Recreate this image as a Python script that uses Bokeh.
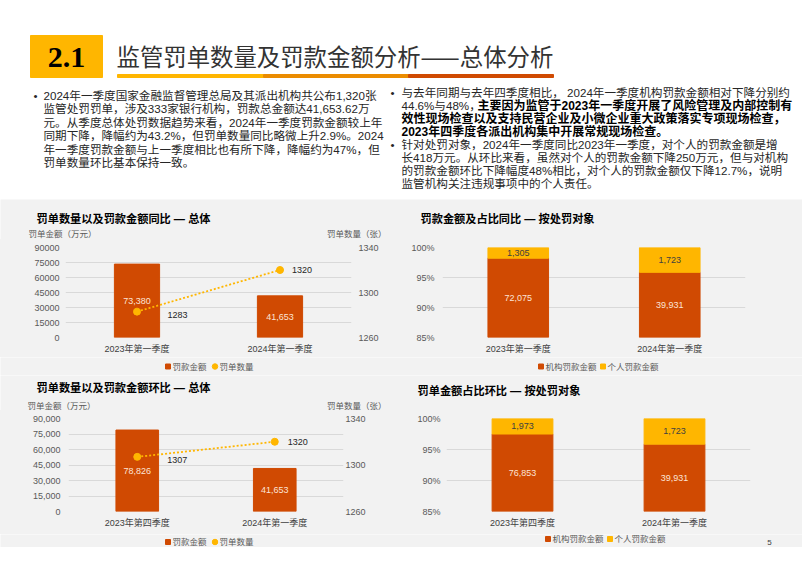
from bokeh.plotting import figure
from bokeh.models import (Range1d, FactorRange, LinearAxis, FixedTicker, NumeralTickFormatter,
                          Label, LabelSet, ColumnDataSource)
from bokeh.layouts import column, row
from bokeh.embed import file_html
from bokeh.resources import INLINE
from bokeh.core.properties import value

# ---------------- data ----------------
yoy_periods = ["2023年第一季度", "2024年第一季度"]
yoy_amount = [73380, 41653]          # 罚款金额（万元）
yoy_count = [1283, 1320]             # 罚单数量（张）

qoq_periods = ["2023年第四季度", "2024年第一季度"]
qoq_amount = [78826, 41653]
qoq_count = [1307, 1320]

yoy_inst = [72075, 39931]            # 机构罚款金额
yoy_indiv = [1305, 1723]             # 个人罚款金额
qoq_inst = [76853, 39931]
qoq_indiv = [1973, 1723]

amount_ticks = [0, 15000, 30000, 45000, 60000, 75000, 90000]
count_ticks = [1260, 1300, 1340]
share_ticks = [0.85, 0.90, 0.95, 1.00]

# ---------------- texts ----------------
slide_num = "2.1"
slide_title = "监管罚单数量及罚款金额分析——总体分析"
left_lines = [
    "2024年一季度国家金融监督管理总局及其派出机构共公布1,320张",
    "监管处罚罚单，涉及333家银行机构，罚款总金额达41,653.62万",
    "元。从季度总体处罚数据趋势来看，2024年一季度罚款金额较上年",
    "同期下降，降幅约为43.2%，但罚单数量同比略微上升2.9%。2024",
    "年一季度罚款金额与上一季度相比也有所下降，降幅约为47%，但",
    "罚单数量环比基本保持一致。",
]
# (text, bold)
right_lines = [
    [("与去年同期与去年四季度相比，  2024年一季度机构罚款金额相对下降分别约", False)],
    [("44.6%与48%，", False), ("主要因为监管于2023年一季度开展了风险管理及内部控制有", True)],
    [("效性现场检查以及支持民营企业及小微企业重大政策落实专项现场检查，", True)],
    [("2023年四季度各派出机构集中开展常规现场检查。", True)],
    [("针对处罚对象，2024年一季度同比2023年一季度，对个人的罚款金额是增", False)],
    [("长418万元。从环比来看，虽然对个人的罚款金额下降250万元，但与对机构", False)],
    [("的罚款金额环比下降幅度48%相比，对个人的罚款金额仅下降12.7%，说明", False)],
    [("监管机构关注违规事项中的个人责任。", False)],
]
t_yoy_total = "罚单数量以及罚款金额同比 — 总体"
t_yoy_share = "罚款金额及占比同比 — 按处罚对象"
t_qoq_total = "罚单数量以及罚款金额环比 — 总体"
t_qoq_share = "罚单金额占比环比 — 按处罚对象"
ax_amount = "罚单金额（万元）"
ax_count = "罚单数量（张）"
lg_amount, lg_count = "罚款金额", "罚单数量"
lg_inst, lg_indiv = "机构罚款金额", "个人罚款金额"

# ---------------- style ----------------
FONT = "'Liberation Sans', 'Noto Sans CJK SC'"
CJK = "'Noto Sans CJK SC'"
ORANGE = "#D04A02"
YELLOW = "#FFB600"
TANGERINE = "#EB8C00"
BG = "#F2F2F2"
GRID = "#D9D9D9"
TICK = "#595959"
DARK = "#262626"
LIGHT = "#FCE4D6"
W = 802
CT = "11.2px"   # chart title size


def panel(height, y0, y1, fill):
    """A text-only panel whose data coordinates equal slide pixels."""
    p = figure(width=W, height=height, x_range=Range1d(0, W), y_range=Range1d(y1, y0),
               output_backend="svg", toolbar_location=None, min_border=0,
               x_axis_type=None, y_axis_type=None, outline_line_color=None,
               background_fill_color=fill, border_fill_color=fill)
    return p


def txt(p, x, y, text, size, color, bold=False, align="left", font=FONT):
    p.add_layout(Label(x=x, y=y, text=text, text_font=font, text_font_size=size,
                       text_color=color, text_font_style="bold" if bold else "normal",
                       text_align=align, text_baseline="middle"))


# ---------------- header ----------------
hdr = panel(199, 0, 199, "white")
hdr.quad(left=30, right=102, top=35, bottom=77, color=YELLOW)
hdr.quad(left=[117, 263, 408], right=[263, 408, 553], top=74, bottom=77,
         color=[YELLOW, TANGERINE, ORANGE])
txt(hdr, 66, 57, slide_num, "30px", "black", bold=True, align="center", font="'Liberation Serif'")
txt(hdr, 116, 55, slide_title, "23.4px", "#333333", font=CJK)

PARA = "11.6px"
for i, t in enumerate(left_lines):
    txt(hdr, 43, 95 + i * 13.4, t, PARA, DARK)
txt(hdr, 33, 95, "•", PARA, DARK)

right_x = [[401], [401, 477], [401], [401], [401], [401], [401], [401]]
for i, segs in enumerate(right_lines):
    for (t, b), xx in zip(segs, right_x[i]):
        txt(hdr, xx, 92 + i * 13, t, "12px" if b else PARA, "black" if b else DARK, bold=b)
for yy in (92, 144):
    txt(hdr, 390, yy, "•", PARA, DARK)


# ---------------- chart helpers ----------------
def base_fig(factors, y_range, width, height, origin, frame):
    ox, oy = origin
    L, T, R, B = frame
    p = figure(width=width, height=height, x_range=FactorRange(factors=factors), y_range=y_range,
               output_backend="svg", toolbar_location=None,
               min_border_left=L - ox, min_border_right=ox + width - R,
               min_border_top=T - oy, min_border_bottom=oy + height - B,
               background_fill_color=BG, border_fill_color=BG, outline_line_color=None)
    p.xgrid.grid_line_color = None
    p.ygrid.grid_line_color = GRID
    for ax in p.axis:
        ax.axis_line_color = None
        ax.major_tick_line_color = None
        ax.minor_tick_line_color = None
        ax.major_tick_out = 0
        ax.major_tick_in = 0
        ax.major_label_text_font = FONT
        ax.major_label_text_font_size = "9px"
    p.xaxis.major_label_text_color = "#404040"
    p.xaxis.major_label_standoff = 6
    p.yaxis.major_label_text_color = TICK
    return p


def combo_chart(periods, amount, count, width, height, origin, frame, tick_fmt, lab_dx, lab_dy,
                right_std, left_std, bar_w):
    p = base_fig(periods, Range1d(0, 90000), width, height, origin, frame)
    p.extra_y_ranges = {"cnt": Range1d(1260, 1340)}
    p.yaxis.ticker = FixedTicker(ticks=amount_ticks)
    p.yaxis.formatter = NumeralTickFormatter(format=tick_fmt)
    p.yaxis.major_label_standoff = left_std
    ax = LinearAxis(y_range_name="cnt", ticker=FixedTicker(ticks=count_ticks),
                    axis_line_color=None, major_tick_line_color=None, minor_tick_line_color=None,
                    major_tick_out=0, major_tick_in=0, major_label_standoff=right_std,
                    major_label_text_font=FONT, major_label_text_font_size="9px",
                    major_label_text_color=TICK)
    p.add_layout(ax, "right")
    src = ColumnDataSource(dict(period=periods, amount=amount, count=count,
                                mid=[a / 2 for a in amount],
                                atxt=[f"{a:,}" for a in amount],
                                ctxt=[str(c) for c in count],
                                dx=lab_dx, dy=lab_dy))
    p.vbar(x="period", top="amount", width=bar_w, color=ORANGE, source=src)
    p.line(x="period", y="count", y_range_name="cnt", source=src, line_color=YELLOW,
           line_width=1.8, line_dash="2 2")
    p.scatter(x="period", y="count", y_range_name="cnt", source=src, size=7, color=YELLOW)
    p.add_layout(LabelSet(x="period", y="mid", text="atxt", source=src, text_align="center",
                          text_baseline="middle", text_color=LIGHT, text_font=value(FONT),
                          text_font_size="9px"))
    p.add_layout(LabelSet(x="period", y="count", y_range_name="cnt", text="ctxt", source=src,
                          x_offset="dx", y_offset="dy", text_align="left",
                          text_baseline="middle", text_color=DARK, text_font=value(FONT),
                          text_font_size="9px"))
    return p


def share_chart(periods, inst, indiv, width, height, origin, frame, left_std):
    p = base_fig(periods, Range1d(0.85, 1.0), width, height, origin, frame)
    p.yaxis.ticker = FixedTicker(ticks=share_ticks)
    p.yaxis.formatter = NumeralTickFormatter(format="0%")
    p.yaxis.major_label_standoff = left_std
    tot = [a + b for a, b in zip(inst, indiv)]
    s_inst = [a / t for a, t in zip(inst, tot)]
    s_ind = [b / t for b, t in zip(indiv, tot)]
    lo = p.y_range.start
    src = ColumnDataSource(dict(period=periods, inst=s_inst, indiv=s_ind,
                                inst_mid=[(lo + s) / 2 for s in s_inst],
                                ind_mid=[(s + 1) / 2 for s in s_inst],
                                inst_txt=[f"{v:,}" for v in inst],
                                ind_txt=[f"{v:,}" for v in indiv]))
    p.vbar_stack(["inst", "indiv"], x="period", width=0.4, color=[ORANGE, YELLOW], source=src)
    p.add_layout(LabelSet(x="period", y="inst_mid", text="inst_txt", source=src,
                          text_align="center", text_baseline="middle", text_color=LIGHT,
                          text_font=value(FONT), text_font_size="9px"))
    p.add_layout(LabelSet(x="period", y="ind_mid", text="ind_txt", source=src,
                          text_align="center", text_baseline="middle", text_color="#404040",
                          text_font=value(FONT), text_font_size="9px"))
    return p


def legend_entry(p, kind, x, y, color, text):
    if kind == "square":
        p.quad(left=x, right=x + 5, top=y - 2.5, bottom=y + 2.5, color=color)
    else:
        p.scatter(x=[x + 2.5], y=[y], size=5.5, color=color)
    txt(p, x + 7, y, text, "8.5px", TICK)


# ---------------- row 1 (同比) ----------------
t1 = panel(40, 199, 239, BG)
txt(t1, 36, 218, t_yoy_total, CT, "black", bold=True)
txt(t1, 28, 233, ax_amount, "8.5px", TICK)
txt(t1, 386, 233, ax_count, "8.5px", TICK, align="right")
txt(t1, 420, 218, t_yoy_share, CT, "black", bold=True)

c1 = combo_chart(yoy_periods, yoy_amount, yoy_count, 400, 118, (0, 239), (65, 245, 351, 337),
                 "0", [30.5, 12], [-3.5, 0], 7, 6, 0.316)
c2 = share_chart(yoy_periods, yoy_inst, yoy_indiv, 402, 118, (400, 239), (442, 247, 745, 340), 8)

l1 = panel(18, 357, 375, BG)
legend_entry(l1, "square", 165, 366, ORANGE, lg_amount)
legend_entry(l1, "circle", 212, 366, YELLOW, lg_count)
legend_entry(l1, "square", 538, 366, ORANGE, lg_inst)
legend_entry(l1, "square", 600, 366, YELLOW, lg_indiv)

# ---------------- row 2 (环比) ----------------
t2 = panel(35, 375, 410, BG)
txt(t2, 36, 387, t_qoq_total, CT, "black", bold=True)
txt(t2, 27, 405, ax_amount, "8.5px", TICK)
txt(t2, 386, 405, ax_count, "8.5px", TICK, align="right")
txt(t2, 417, 390, t_qoq_share, CT, "black", bold=True)

c3 = combo_chart(qoq_periods, qoq_amount, qoq_count, 400, 124, (0, 410), (68, 414, 343, 516),
                 "0,0", [30, 13], [-3, 0], 2, 8, 0.31)
c4 = share_chart(qoq_periods, qoq_inst, qoq_indiv, 402, 124, (400, 410), (446, 418, 750, 511), 6)

l2 = panel(13, 534, 547, BG)
legend_entry(l2, "square", 165, 541.5, ORANGE, lg_amount)
legend_entry(l2, "circle", 212, 541.5, YELLOW, lg_count)
legend_entry(l2, "square", 545, 538.5, ORANGE, lg_inst)
legend_entry(l2, "square", 607, 538.5, YELLOW, lg_indiv)
txt(l2, 769, 542, "5", "8px", "#404040", align="center")

foot = panel(19, 547, 566, "white")

layout = column(hdr, t1, row(c1, c2, styles={"background-color": BG}), l1,
                t2, row(c3, c4, styles={"background-color": BG}), l2, foot)
open("out.html", "w").write(file_html(layout, INLINE))
